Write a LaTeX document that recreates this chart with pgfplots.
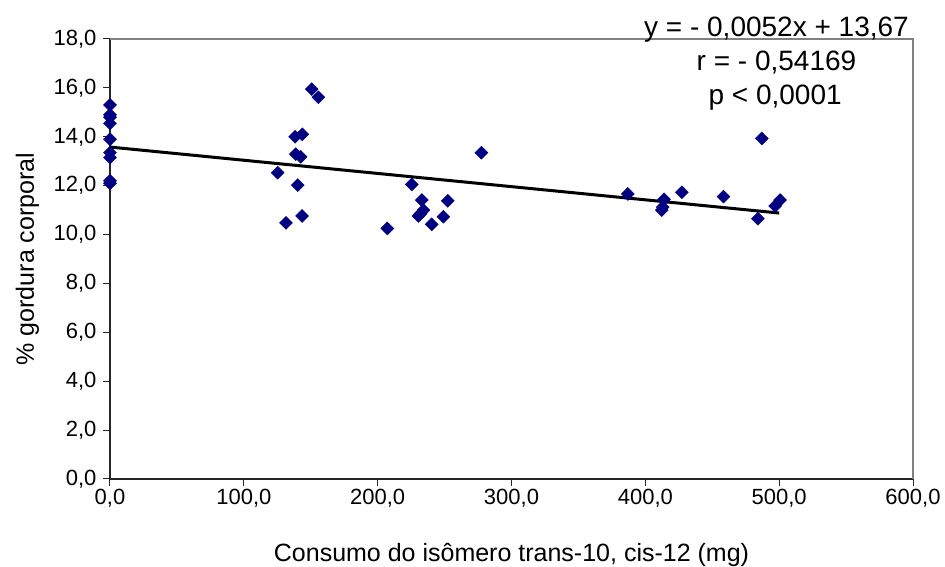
\documentclass[border=0pt]{standalone}
\usepackage{pgfplots}
\pgfplotsset{compat=1.18}
\usepackage{fontspec}
\setmainfont{Liberation Sans}

\definecolor{ptnavy}{RGB}{0,0,128}

\begin{document}
\begin{tikzpicture}[x=1pt,y=1pt]
\path[use as bounding box] (0,0) rectangle (945,567);
\begin{axis}[
  at={(110pt,88pt)}, anchor=south west,
  scale only axis, width=803pt, height=440pt,
  xmin=0, xmax=600, ymin=0, ymax=18,
  xtick={0,100,...,600}, ytick={0,2,...,18},
  axis x line*=bottom, axis y line*=left,
  axis line style={-, line width=1.4pt, black!85},
  tick align=outside, major tick length=7pt,
  tick style={line width=1pt, black!85},
  /pgf/number format/.cd, fixed, fixed zerofill, precision=1, use comma, 1000 sep={}, assume math mode=true,
  /pgfplots/.cd,
  tick label style={font=\fontsize{22}{26}\selectfont},
  yticklabel style={xshift=-3pt},
  every axis y label/.style={at={(axis description cs:-0.103,0.5)}, rotate=90, anchor=center},
  every axis x label/.style={at={(axis description cs:0.5,-0.1864)}, anchor=base},
  label style={font=\fontsize{25}{29}\selectfont},
  xlabel={Consumo do isômero trans-10, cis-12 (mg)},
  ylabel={\% gordura corporal},
  clip=false,
]
\draw[gray, line width=2pt] (rel axis cs:0,1) -- (rel axis cs:1,1) -- (rel axis cs:1,0);

\addplot[only marks, mark=square*, mark size=4.6pt, mark options={rotate=45, fill=ptnavy, draw=ptnavy}] coordinates {
  (0,15.3) (0,14.9) (0,14.8) (0,14.55) (0,13.9) (0,13.35) (0,13.15) (0,12.2) (0,12.1)
  (150.7,15.95) (155.7,15.62) (138.3,14.0) (143.7,14.1) (138.8,13.29) (142.5,13.18)
  (125.3,12.53) (140.3,12.02) (131.5,10.48) (143.5,10.76)
  (277.5,13.35) (225.5,12.05) (233,11.41) (252.4,11.38) (234.2,11.0) (230.4,10.76)
  (232,10.85) (249.1,10.73) (240.4,10.42) (207.2,10.25)
  (487,13.93) (386.9,11.66) (414,11.44) (412.3,11.0) (413,11.12) (427.3,11.73)
  (458.4,11.55) (484.1,10.65) (500.7,11.41) (497,11.17)
};
\addplot[black, line width=3pt] coordinates {(0,13.58) (500,10.88)};

\node[anchor=base, font=\fontsize{28}{32}\selectfont] at (axis cs:498,18.12) {y = - 0,0052x + 13,67};
\node[anchor=base, font=\fontsize{28}{32}\selectfont] at (axis cs:498,16.73) {r = - 0,54169};
\node[anchor=base, font=\fontsize{28}{32}\selectfont] at (axis cs:497,15.3) {p < 0,0001};
\end{axis}
\end{tikzpicture}
\end{document}
